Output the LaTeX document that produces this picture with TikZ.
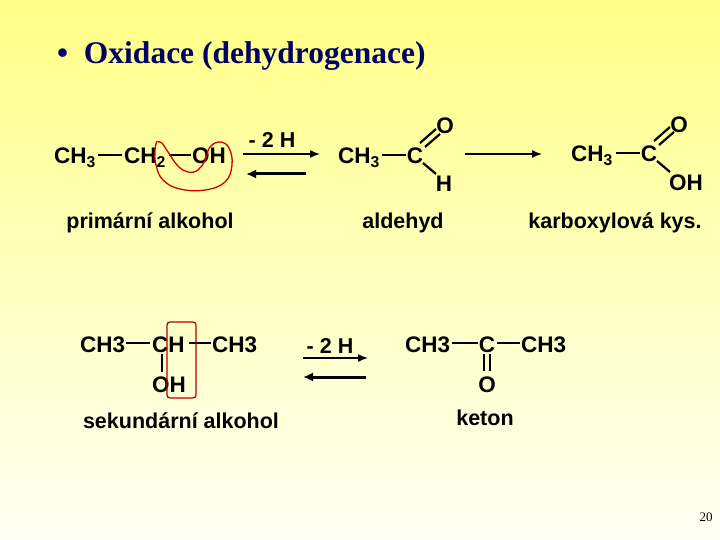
\documentclass[tikz,border=0pt]{standalone}
\usepackage{fontspec}
\usetikzlibrary{arrows.meta}
\setmainfont{Liberation Serif}
\newfontfamily\chem{Liberation Sans}
\begin{document}
\begin{tikzpicture}[x=1pt,y=-1pt,
  ch/.style={font=\chem\bfseries\fontsize{22.5}{22}\selectfont,inner sep=0pt,anchor=base},
  lab/.style={font=\chem\bfseries\fontsize{21.5}{22}\selectfont,inner sep=0pt,anchor=base},
  bnd/.style={line width=2.2pt},
  arr/.style={line width=1.4pt,-{Latex[length=10pt,width=8pt]}},
  barr/.style={line width=3pt,-{Latex[length=10pt,width=9pt]}}]
\shade[top color=yellow!48,bottom color=yellow!4] (0,0) rectangle (720,540);
\useasboundingbox (0,0) rectangle (720,540);
\node[font=\bfseries\fontsize{31.5}{32}\selectfont,text=blue!40!black,anchor=base west,inner sep=0pt] (title) at (57,64) {\textbullet\ \ Oxidace (dehydrogenace)};
% row 1
\node[ch,anchor=base west] (a1) at (54,164) {CH\textsubscript{3}};
\node[ch,anchor=base west] (a2) at (124,164) {CH\textsubscript{2}};
\node[ch,anchor=base west] (a3) at (192,164) {OH};
\draw[bnd] (98,155) -- (122,155);
\draw[bnd] (169,155) -- (191,155);
\node[lab] (m1) at (272,148) {- 2 H};
\coordinate (f1s) at (243,154); \coordinate (f1e) at (320,154);
\draw[arr] (f1s) -- (f1e);
\coordinate (b1s) at (306,174); \coordinate (b1e) at (246,174);
\draw[barr] (b1s) -- (b1e);
\node[ch,anchor=base west] (d1) at (338,164) {CH\textsubscript{3}};
\node[ch] (d2) at (415,164) {C};
\node[ch] (d3) at (445,134) {O};
\node[ch] (d4) at (444,192) {H};
\draw[bnd] (382,155) -- (406,155);
\draw[bnd] (420,143) -- (436,129);
\draw[bnd] (425,147) -- (440,134);
\draw[bnd] (423,163) -- (436,174);
\coordinate (f2s) at (465,154); \coordinate (f2e) at (542,154);
\draw[arr] (f2s) -- (f2e);
\node[ch,anchor=base west] (k1) at (571,162) {CH\textsubscript{3}};
\node[ch] (k2) at (649,162) {C};
\node[ch] (k3) at (679,133) {O};
\node[ch,anchor=base west] (k4) at (669,191) {OH};
\draw[bnd] (616,153) -- (640,153);
\draw[bnd] (654,141) -- (670,127);
\draw[bnd] (659,145) -- (674,132);
\draw[bnd] (657,161) -- (670,172);
\node[lab] (l1) at (150,229) {primární alkohol};
\node[lab] (l2) at (403,229) {aldehyd};
\node[lab] (l3) at (615,229) {karboxylová kys.};
\draw[red!80!black,line width=1.3pt] plot[smooth,tension=0.7] coordinates {(158,142) (162,143) (168,152) (178,166) (188,172) (198,170) (205,160) (210,147) (220,142) (229,148) (232,165) (225,182) (205,190) (180,189) (163,180) (156,165) (155,150) (157,141)};
% row 2
\node[ch,anchor=base west] (s1) at (80,352) {CH3};
\node[ch,anchor=base west] (s2) at (152,352) {CH};
\node[ch,anchor=base west] (s3) at (212,352) {CH3};
\node[ch,anchor=base west] (s4) at (152,392) {OH};
\draw[bnd] (126,343) -- (150,343);
\draw[bnd] (189,343) -- (211,343);
\draw[bnd] (162,354) -- (162,372);
\draw[red!70!black,line width=1.3pt,rounded corners=3pt] (167,322) rectangle (196,398);
\node[lab] (m2) at (330,353) {- 2 H};
\coordinate (f3s) at (303,358); \coordinate (f3e) at (368,358);
\draw[arr] (f3s) -- (f3e);
\coordinate (b3s) at (366,377); \coordinate (b3e) at (303,377);
\draw[barr] (b3s) -- (b3e);
\node[ch,anchor=base west] (t1) at (405,352) {CH3};
\node[ch] (t2) at (487,352) {C};
\node[ch,anchor=base west] (t3) at (521,352) {CH3};
\node[ch] (t4) at (487,392) {O};
\draw[bnd] (452,343) -- (478,343);
\draw[bnd] (497,343) -- (520,343);
\draw[bnd] (484,354) -- (484,371);
\draw[bnd] (490,354) -- (490,371);
\node[lab] (l4) at (181,428) {sekundární alkohol};
\node[lab] (l5) at (485,425) {keton};
\node[font=\fontsize{13}{13}\selectfont,anchor=base,inner sep=0pt] (pg) at (706,521) {20};
\end{tikzpicture}
\end{document}
